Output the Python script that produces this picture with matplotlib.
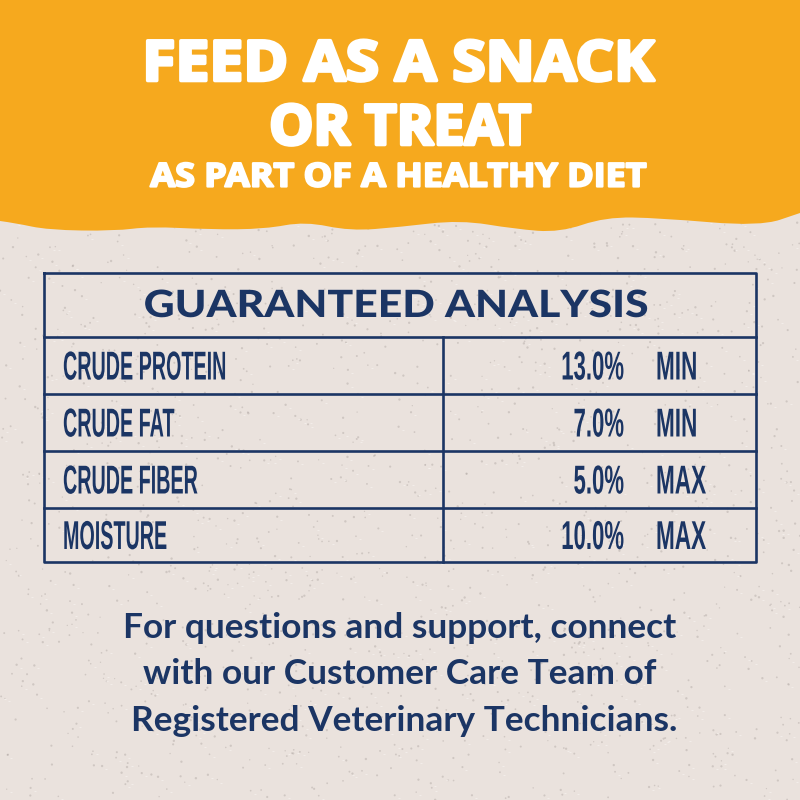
import numpy as np
import matplotlib
matplotlib.use("Agg")
import matplotlib.pyplot as plt
from matplotlib.patches import PathPatch
from matplotlib.path import Path
from matplotlib.patheffects import AbstractPathEffect
from matplotlib.transforms import Affine2D

nutrients = ["CRUDE PROTEIN", "CRUDE FAT", "CRUDE FIBER", "MOISTURE"]
percent_labels = ["13.0%", "7.0%", "5.0%", "10.0%"]
limits = ["MIN", "MIN", "MAX", "MAX"]
title_lines = ["FEED AS A SNACK", "OR TREAT"]
subtitle = "AS PART OF A HEALTHY DIET"
table_title = "GUARANTEED ANALYSIS"
footer_lines = ["For questions and support, connect",
                "with our Customer Care Team of",
                "Registered Veterinary Technicians."]
edge_x = [0, 15, 48, 115, 150, 210, 265, 305, 350, 400, 460, 515, 560, 605, 660, 760, 800]
edge_y = [221, 223, 230, 231, 226.5, 229.5, 229, 221.5, 231, 227, 220, 229, 232.5, 217, 218, 226.5, 213]

NAVY = "#1B3564"
ORANGE = "#F6A91E"
PAPER = "#EAE2DD"


class Squeeze(AbstractPathEffect):
    """Scale a text's glyphs horizontally about a pixel x, optionally fattening them."""

    def __init__(self, x0, sx, stroke=0.0):
        super().__init__()
        self.x0, self.sx, self.stroke = x0, sx, stroke

    def draw_path(self, renderer, gc, tpath, affine, rgbFace=None):
        t = affine + Affine2D().translate(-self.x0, 0).scale(self.sx, 1).translate(self.x0, 0)
        if self.stroke:
            gc.set_linewidth(self.stroke)
            gc.set_foreground(rgbFace)
        renderer.draw_path(gc, tpath, t, rgbFace)


fig = plt.figure(figsize=(8, 8), dpi=100, facecolor=PAPER)
ax = fig.add_axes([0, 0, 1, 1])
ax.set_xlim(0, 800)
ax.set_ylim(800, 0)
ax.axis("off")

# paper flecks: decorative background only, from an irregular quadratic sequence
k = np.arange(1, 2200, dtype=float)
fx = (k * k * 0.7548776662) % 1 * 800
fy = (k * k * 0.5698402910 + k * 0.31) % 1 * 800
ax.scatter(fx, fy, s=0.8 + 2.2 * ((k * 0.381966) % 1), marker="o", color="#A89F9B",
           alpha=0.4, lw=0, zorder=1)
ax.scatter(fx[::2] + 4, fy[::2] + 3, s=2.5, marker="_", color="#F7F3EF", alpha=0.8, lw=0.6, zorder=1)

# orange torn-paper header, smoothed through the edge points
verts = [(800, 0), (0, 0), (0, edge_y[0])]
codes = [Path.MOVETO, Path.LINETO, Path.LINETO]
for i in range(1, len(edge_x) - 1):
    verts += [(edge_x[i], edge_y[i]),
              ((edge_x[i] + edge_x[i + 1]) / 2, (edge_y[i] + edge_y[i + 1]) / 2)]
    codes += [Path.CURVE3, Path.CURVE3]
verts += [(800, edge_y[-1]), (800, 0)]
codes += [Path.LINETO, Path.CLOSEPOLY]
ax.add_patch(PathPatch(Path(verts, codes), facecolor=ORANGE, lw=0, zorder=2))

for txt, x, y, sx in zip(title_lines, [398, 400], [66, 130], [1.09, 1.0]):
    ax.text(x, y, txt, ha="center", va="center", color="white", fontsize=40,
            family="Open Sans", weight="bold", zorder=5,
            path_effects=[Squeeze(x, sx, 2.6)])
ax.text(398, 178, subtitle, ha="center", va="center", color="white", fontsize=23.5,
        family="Open Sans", weight="bold", zorder=5,
        path_effects=[Squeeze(398, 1.10, 1.6)])

left, right, top, bottom, mid = 44, 756, 273, 562, 443
rows = [337, 394, 451, 508]
lw = 1.9
ax.plot([left, right, right, left, left], [top, top, bottom, bottom, top], color=NAVY, lw=lw, zorder=3)
for y in rows:
    ax.plot([left, right], [y, y], color=NAVY, lw=lw, zorder=3)
ax.plot([mid, mid], [rows[0], bottom], color=NAVY, lw=lw, zorder=3)

ax.text(396, 306, table_title, ha="center", va="center", color=NAVY, fontsize=27,
        family="Lato", weight="black", zorder=5, path_effects=[Squeeze(396, 1.14)])

row_edges = rows + [bottom]
for i, (n, p, l) in enumerate(zip(nutrients, percent_labels, limits)):
    yc = (row_edges[i] + row_edges[i + 1]) / 2 + 3
    kw = dict(va="center", color=NAVY, fontsize=29, family="Liberation Sans", weight="bold", zorder=5)
    ax.text(63, yc, n, ha="left", path_effects=[Squeeze(63, 0.49)], **kw)
    ax.text(624, yc, p, ha="right", path_effects=[Squeeze(624, 0.55)], **kw)
    ax.text(656, yc, l, ha="left", path_effects=[Squeeze(656, 0.56)], **kw)

for txt, x, y in zip(footer_lines, [400, 400, 404], [628, 674, 721]):
    ax.text(x, y, txt, ha="center", va="center", color=NAVY, fontsize=25.4,
            family="Lato", weight="bold", zorder=5)

fig.savefig("out.png", dpi=100, facecolor=PAPER)
